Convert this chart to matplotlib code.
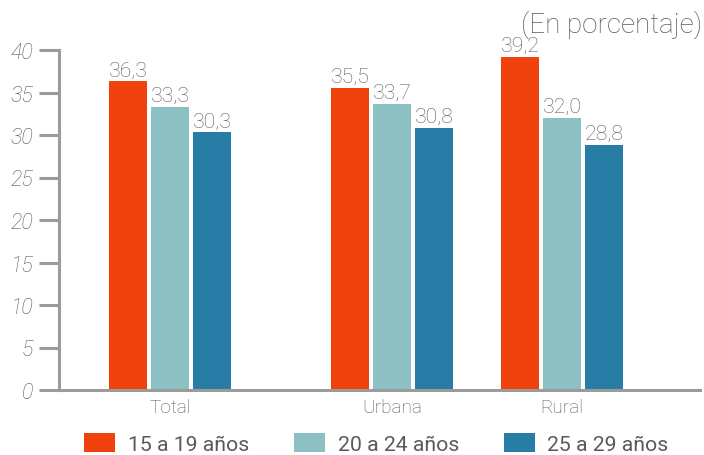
import matplotlib.pyplot as plt
import numpy as np

# Datos
zonas = ["Total", "Urbana", "Rural"]
edad_15_19 = [36.3, 35.5, 39.2]
edad_20_24 = [33.3, 33.7, 32.0]
edad_25_29 = [30.3, 30.8, 28.8]
series_nombres = ["15 a 19 años", "20 a 24 años", "25 a 29 años"]
yticks = [0, 5, 10, 15, 20, 25, 30, 35, 40]

colores = ["#EE410C", "#8CC0C3", "#287DA6"]
gris = "#5a5a5a"
eje = "#9b9b9b"

plt.rcParams['font.family'] = ['Roboto', 'DejaVu Sans']

fig = plt.figure(figsize=(7.04, 4.56), dpi=100)
ax = fig.add_axes([59 / 704, (456 - 391) / 456, (700 - 59) / 704, 340 / 456])

# posiciones de los grupos (en px del eje)
centros = np.array([111, 333, 503])
ancho = 38
paso = 42

series = [edad_15_19, edad_20_24, edad_25_29]
handles = []
for i, (vals, col) in enumerate(zip(series, colores)):
    b = ax.bar(centros + (i - 1) * paso, vals, width=ancho, color=col, label=series_nombres[i])
    ax.bar_label(b, labels=[f"{v:.1f}".replace('.', ',') for v in vals], padding=1.5,
                 fontsize=15.3, color=gris, fontweight='light')
    handles.append(b)

ax.set_xlim(0, 641)
ax.set_ylim(0, 40)
ax.set_yticks(yticks)
ax.set_yticklabels([str(t) for t in yticks], fontsize=15.5, color=gris, style='italic', fontweight='light')
ax.set_xticks(centros)
ax.set_xticklabels(zonas, fontsize=13.7, color=gris, fontweight='light')

ax.tick_params(axis='y', length=14.5, width=2.2, color=eje, pad=4)
ax.tick_params(axis='x', length=0, pad=6)
for s in ['top', 'right']:
    ax.spines[s].set_visible(False)
for s in ['left', 'bottom']:
    ax.spines[s].set_color(eje)
    ax.spines[s].set_linewidth(2.2)

fig.text(702 / 704, 1 - 25 / 456, "(En porcentaje)", ha='right', va='center',
         fontsize=20, color=gris, fontweight='light')

fig.legend(handles=handles, labels=series_nombres, loc='center', ncol=3,
           bbox_to_anchor=(376.5 / 704, 11.5 / 456), frameon=False, fontsize=15.3,
           handlelength=1.46, handleheight=1.0, handletextpad=0.6, columnspacing=2.1,
           labelcolor=gris, borderpad=0, borderaxespad=0)

fig.savefig("out.png", dpi=100)
